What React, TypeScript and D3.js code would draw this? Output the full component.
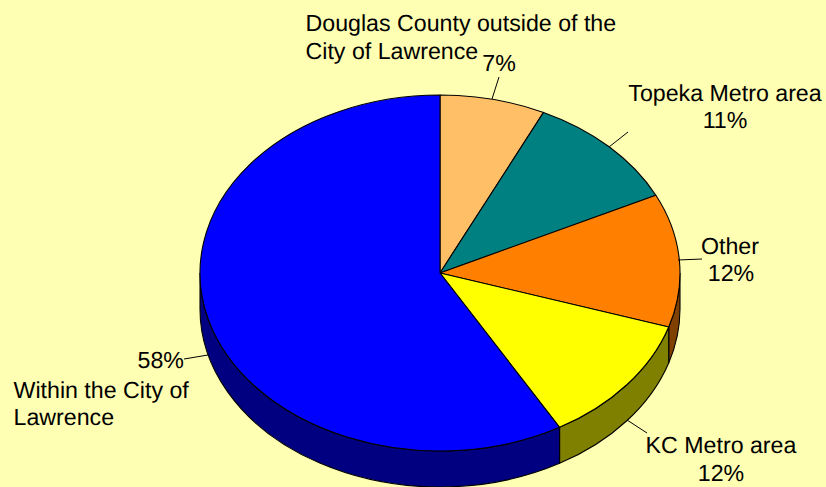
import React from 'react';
import * as d3 from 'd3';

const categories = ['Douglas County', 'Topeka Metro area', 'Other', 'KC Metro area', 'Within the City'];
const values = [7.1, 10.7, 12.1, 11.8, 58.3];
const topColors = ['#FFBF66', '#008080', '#FF8000', '#FFFF00', '#0000FF'];
const sideColors = ['#806033', '#004040', '#804000', '#808000', '#000080'];

const labelLines = [
  { x: 305.5, y: 31, anchor: 'start', text: 'Douglas County outside of the' },
  { x: 305.5, y: 59, anchor: 'start', text: 'City of Lawrence' },
  { x: 499, y: 71, anchor: 'middle', text: '7%' },
  { x: 725, y: 101, anchor: 'middle', text: 'Topeka Metro area' },
  { x: 725, y: 128, anchor: 'middle', text: '11%' },
  { x: 730, y: 254, anchor: 'middle', text: 'Other' },
  { x: 731, y: 281, anchor: 'middle', text: '12%' },
  { x: 721, y: 453, anchor: 'middle', text: 'KC Metro area' },
  { x: 721, y: 481, anchor: 'middle', text: '12%' },
  { x: 184, y: 368, anchor: 'end', text: '58%' },
  { x: 13.5, y: 398, anchor: 'start', text: 'Within the City of' },
  { x: 13.5, y: 425, anchor: 'start', text: 'Lawrence' },
];

const leaders = [
  [499, 77, 492, 99],
  [628, 132, 609, 147],
  [702, 259, 678, 260],
  [647, 433, 627, 420],
  [184, 359, 208, 355],
];

const width = 826;
const height = 487;
const cx = 440;
const cy = 273;
const rx = 240;
const ry = 178;
const depth = 36;

const px = (a: number) => cx + rx * Math.sin(a);
const py = (a: number) => cy - ry * Math.cos(a);

// top of a slice, clockwise from 12 o'clock
const topPath = (a0: number, a1: number) => {
  const large = a1 - a0 > Math.PI ? 1 : 0;
  return `M${cx},${cy}L${px(a0)},${py(a0)}A${rx},${ry} 0 ${large} 1 ${px(a1)},${py(a1)}Z`;
};

// outer wall, only the part facing the viewer
const sidePath = (a0: number, a1: number) => {
  const s = Math.max(a0, Math.PI / 2);
  const e = Math.min(a1, (3 * Math.PI) / 2);
  if (e <= s) return null;
  return (
    `M${px(s)},${py(s)}A${rx},${ry} 0 0 1 ${px(e)},${py(e)}` +
    `L${px(e)},${py(e) + depth}A${rx},${ry} 0 0 0 ${px(s)},${py(s) + depth}Z`
  );
};

export default function App() {
  const slices = d3.pie<number>().sort(null)(values);

  return (
    <svg
      width={width}
      height={height}
      style={{ position: 'absolute', left: 0, top: 0, background: '#FFFFB3' }}
      fontFamily="'Liberation Sans', Arial, sans-serif"
      fontSize={23.2}
      textRendering="geometricPrecision"
    >
      {slices.map((d, i) => {
        const p = sidePath(d.startAngle, d.endAngle);
        return p ? (
          <path key={categories[i]} d={p} fill={sideColors[i]} stroke="#000" strokeWidth={1.1} />
        ) : null;
      })}
      {slices.map((d, i) => (
        <path
          key={categories[i]}
          d={topPath(d.startAngle, d.endAngle)}
          fill={topColors[i]}
          stroke="#000"
          strokeWidth={1.1}
          strokeLinejoin="round"
        />
      ))}
      {leaders.map((l, i) => (
        <line key={i} x1={l[0]} y1={l[1]} x2={l[2]} y2={l[3]} stroke="#000" strokeWidth={1} />
      ))}
      {labelLines.map((t) => (
        <text key={t.text + t.x} x={t.x} y={t.y} textAnchor={t.anchor} fill="#000">
          {t.text}
        </text>
      ))}
    </svg>
  );
}
